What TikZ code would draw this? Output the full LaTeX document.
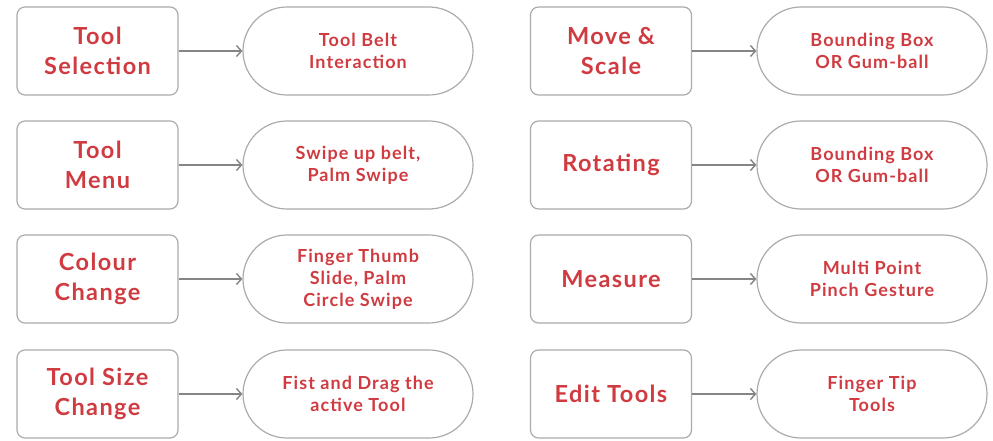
\documentclass[tikz,border=0pt]{standalone}
\usepackage{fontspec}
\setmainfont{Lato}
\usetikzlibrary{arrows.meta,shapes.misc}
\definecolor{txtred}{HTML}{CF3B40}
\definecolor{boxgray}{HTML}{ABABAB}
\definecolor{arrgray}{HTML}{858585}
\tikzset{
  srcbox/.style={draw=boxgray, line width=1.2pt, rounded corners=8pt, minimum width=161pt, minimum height=88pt, inner sep=0pt, align=center, text=txtred, font=\fontsize{23.5}{30}\selectfont\bfseries\addfontfeature{LetterSpace=6}},
  pillbox/.style={draw=boxgray, line width=1.2pt, rounded rectangle, minimum width=230pt, minimum height=88pt, inner sep=0pt, align=center, text=txtred, font=\fontsize{18}{22}\selectfont\bfseries\addfontfeature{LetterSpace=6}},
  conn/.style={draw=arrgray, line width=1.4pt, -{Straight Barb[length=5pt,width=11pt]}}
}
\begin{document}
\begin{tikzpicture}[x=1pt,y=-1pt]
\useasboundingbox (0,0) rectangle (993,441);
% left column
\node[srcbox] (a1) at (97.5,51) {Tool\\Selection};
\node[pillbox] (b1) at (358,51) {Tool Belt\\Interaction};
\node[srcbox] (a2) at (97.5,165) {Tool\\Menu};
\node[pillbox] (b2) at (358,165) {Swipe up belt,\\Palm Swipe};
\node[srcbox] (a3) at (97.5,279) {Colour\\Change};
\node[pillbox] (b3) at (358,279) {Finger Thumb\\Slide, Palm\\Circle Swipe};
\node[srcbox] (a4) at (97.5,394) {Tool Size\\Change};
\node[pillbox] (b4) at (358,394) {Fist and Drag the\\active Tool};
% right column
\node[srcbox] (c1) at (611,51) {Move \&\\Scale};
\node[pillbox] (d1) at (872,51) {Bounding Box\\OR Gum-ball};
\node[srcbox] (c2) at (611,165) {Rotating};
\node[pillbox] (d2) at (872,165) {Bounding Box\\OR Gum-ball};
\node[srcbox] (c3) at (611,279) {Measure};
\node[pillbox] (d3) at (872,279) {Multi Point\\Pinch Gesture};
\node[srcbox] (c4) at (611,394) {Edit Tools};
\node[pillbox] (d4) at (872,394) {Finger Tip\\Tools};
\foreach \s/\t in {a1/b1,a2/b2,a3/b3,a4/b4,c1/d1,c2/d2,c3/d3,c4/d4}
  \draw[conn] (\s) -- (\t);
\end{tikzpicture}
\end{document}
